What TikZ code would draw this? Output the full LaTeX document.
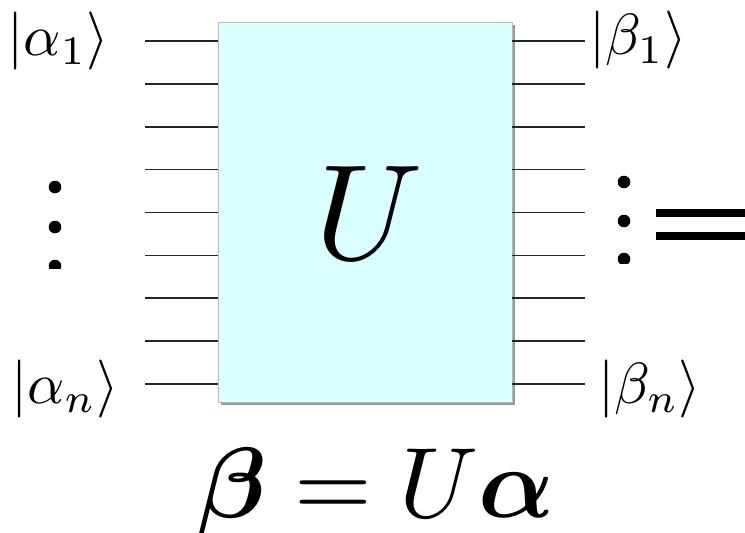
\documentclass[tikz,border=0pt]{standalone}
\usepackage{amsmath,bm}
\definecolor{boxfill}{RGB}{218,255,255}
\begin{document}
\begin{tikzpicture}[x=1pt,y=-1pt,
  wire/.style={line width=1.6pt, draw=black!85},
  ket/.style={inner sep=0pt, scale=5.8},
  dotc/.style={fill=black}]
\useasboundingbox (0,0) rectangle (745,533);
% shadow
\fill[black!40] (221,25) rectangle (515,405);
% box
\node[draw=gray!55, fill=boxfill, minimum width=294pt, minimum height=380pt,
      inner sep=0pt, line width=0.8pt] (U) at (365,212) {};
\node[inner sep=0pt, scale=13.6] (Ulab) at (369,213) {$U$};
% wires
\foreach \i in {0,...,8} {
  \pgfmathsetmacro\yy{41+42.875*\i}
  \coordinate (l\i) at (145,\yy);
  \coordinate (r\i) at (585,\yy);
  \draw[wire] (l\i) -- (l\i -| U.west);
  \draw[wire] (U.east |- r\i) -- (r\i);
}
% labels
\node[ket] (a1) at (58.5,41) {$|\alpha_1\rangle$};
\node[ket] (an) at (65,389) {$|\alpha_n\rangle$};
\node[ket] (b1) at (638,40) {$|\beta_1\rangle$};
\node[ket] (bn) at (650,389) {$|\beta_n\rangle$};
% dots
\begin{scope}
  \clip (0,0) rectangle (300,268);
  \foreach \y in {187,227,266} \fill[dotc] (55,\y) circle (6.3);
\end{scope}
\begin{scope}
  \clip (560,0) rectangle (650,263);
  \foreach \y in {182,221,259} \fill[dotc] (624,\y) circle (6.3);
\end{scope}
% equals sign at right edge
\fill (656,209.3) rectangle (760,217.3);
\fill (656,231.7) rectangle (760,240);
% equation
\node[inner sep=0pt, scale=10, anchor=base] (eq) at (376,517) {$\bm{\beta} = U\bm{\alpha}$};
\end{tikzpicture}
\end{document}
